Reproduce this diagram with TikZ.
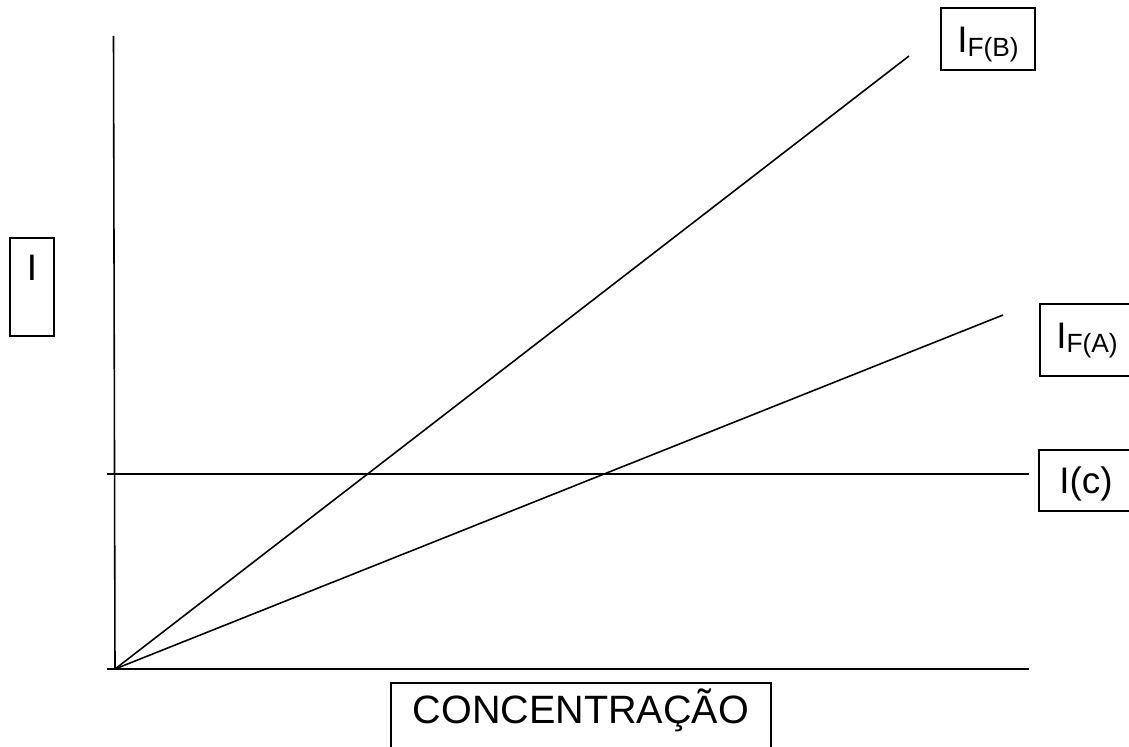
\documentclass[tikz,border=0pt]{standalone}
\usepackage{fontspec}
\setmainfont{Liberation Sans}
\newcommand{\bigtxt}{\fontsize{21}{25}\selectfont}
\newcommand{\subtxt}{\fontsize{15}{17}\selectfont}
\newcommand{\idx}[1]{I\raisebox{-0.08cm}{\subtxt #1}}
\tikzset{
  lbl/.style={draw, line width=0.9pt, font=\bigtxt, text height=0.53cm, text depth=0cm, inner sep=0pt}
}
\begin{document}
\begin{tikzpicture}[line width=0.9pt]
            \useasboundingbox (0,0) rectangle (22.58,14.92);
            % axes
            \coordinate (o) at (2.30,1.54);
            \coordinate (ytop) at (2.27,14.2);
            \coordinate (xl) at (2.14,1.54);
            \coordinate (xr) at (20.58,1.54);
            \draw (ytop)--(o);
            \draw (xl)--(xr);
            % blank level
            \coordinate (cl) at (2.14,5.44);
            \coordinate (cr) at (20.58,5.44);
            \draw (cl)--(cr);
            % standards A and B
            \coordinate (bend) at (18.18,13.8);
            \coordinate (aend) at (20.06,8.62);
            \draw (o)--(bend);
            \draw (o)--(aend);

            \node[lbl, minimum width=1.88cm, minimum height=1.24cm] (fb) at (19.76,14.14) {\idx{F(B)}};
            \node[lbl, minimum width=1.88cm, minimum height=1.44cm, text depth=0.2cm] (fa) at (21.74,8.12) {\idx{F(A)}};
            \node[lbl, minimum width=1.88cm, minimum height=1.22cm] (ic) at (21.72,5.31) {I(c)};
            \node[lbl, anchor=north, minimum width=0.88cm, inner ysep=0.33cm, text depth=0.77cm] (ii) at (0.64,10.18) {I};
            \node[lbl, anchor=north, minimum width=7.6cm, inner ysep=0.28cm, text depth=0.5cm, font=\fontsize{22.5}{26}\selectfont] (conc) at (11.62,1.28) {CONCENTRAÇÃO};
            \end{tikzpicture}
\end{document}
